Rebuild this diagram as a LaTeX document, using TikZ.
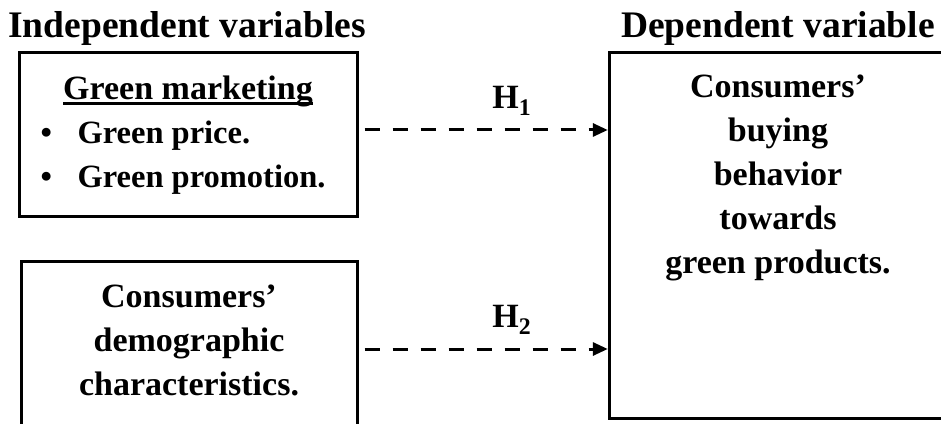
\documentclass[tikz,border=0pt]{standalone}
\usepackage{fontspec}
\setmainfont{Liberation Serif}
\usetikzlibrary{arrows.meta,positioning}
\newcommand\thickul[1]{{\setbox0\hbox{#1}\rlap{\rule[-5.5pt]{\wd0}{3pt}}\box0}}
\tikzset{
  frame/.style={draw,line width=3pt,inner sep=0pt},
  hyp/.style={line width=3pt,dash pattern=on 15pt off 13pt,
    -{Triangle[length=15pt,width=13pt]},shorten <=6pt,shorten >=2pt},
  lbl/.style={font=\bfseries\fontsize{34}{44}\selectfont,align=center,inner sep=0pt},
  head/.style={lbl,anchor=base,font=\bfseries\fontsize{37.5}{44}\selectfont}
}
\begin{document}
\begin{tikzpicture}[x=1pt,y=1pt]
  \useasboundingbox (0,0) rectangle (941,423);
  \clip (0,0) rectangle (941,423);

  % headings
  \node[head] (iv) at (187,385) {Independent variables};
  \node[head] (dvt) at (778,385) {Dependent variable};

  % boxes
  \node[frame,lbl,minimum width=338pt,minimum height=164pt] (gm) at (188,288) {%
    \begin{tabular}{@{}l@{\hspace{10pt}}}
      \multicolumn{1}{@{}c@{}}{\thickul{Green marketing}}\\
      \fontsize{32.5}{44}\selectfont\makebox[37pt][l]{\textbullet}Green price.\\
      \fontsize{32.5}{44}\selectfont\makebox[37pt][l]{\textbullet}Green promotion.
    \end{tabular}};
  \node[frame,minimum width=336pt,minimum height=174pt] (dem) at (189,74) {};
  \node[lbl,below=24pt of dem.north] (demt) {Consumers'\\demographic\\characteristics.};
  % right box runs past the page edge: three sides only
  \node[inner sep=0pt,minimum width=420pt,minimum height=365pt] (cbb) at (820,187.5) {};
  \draw[line width=3pt] (cbb.north east) -- (cbb.north west) -- (cbb.south west) -- (cbb.south east);
  \node[lbl,anchor=north] (cbbt) at ([yshift=-22pt]cbb.north -| dvt) {Consumers'\\buying\\behavior\\towards\\green products.};

  % hypotheses
  \draw[hyp] ([yshift=5pt]gm.east) -- ([yshift=5pt]gm.east -| cbb.west)
    node[lbl,pos=0.61,above=13pt] (h1) {H\textsubscript{1}};
  \draw[hyp] (dem.east) -- (dem.east -| cbb.west)
    node[lbl,pos=0.61,above=13pt] (h2) {H\textsubscript{2}};
\end{tikzpicture}
\end{document}
